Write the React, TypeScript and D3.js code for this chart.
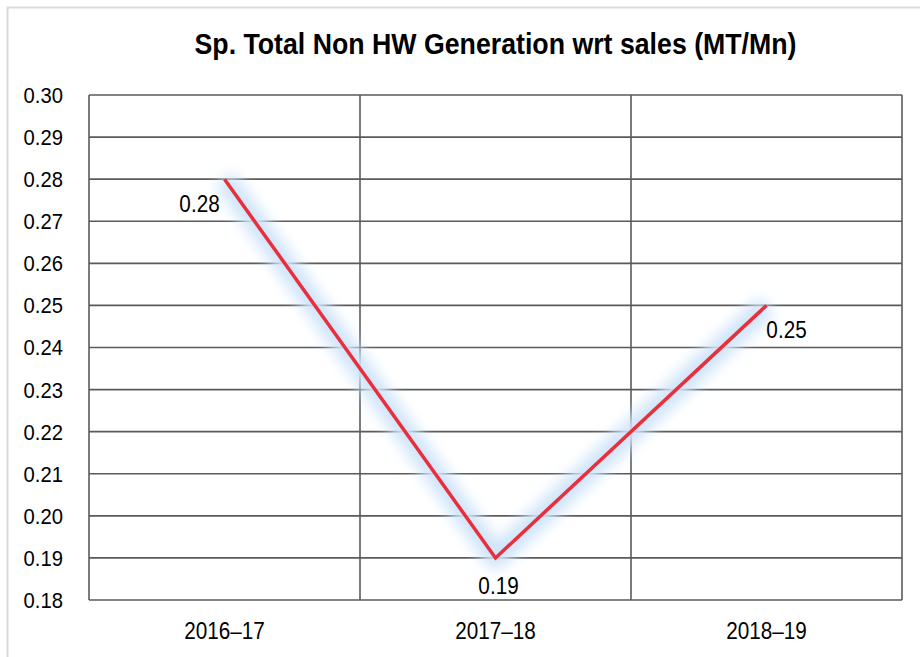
import React, { useEffect, useRef } from 'react';
import * as d3 from 'd3';

// values
const years = ['2016\u201317', '2017\u201318', '2018\u201319'];
const values = [0.28, 0.19, 0.25];
const yTicks = [0.18, 0.19, 0.2, 0.21, 0.22, 0.23, 0.24, 0.25, 0.26, 0.27, 0.28, 0.29, 0.3];
const title = 'Sp. Total Non HW Generation wrt sales (MT/Mn)';

const W = 920;
const H = 657;
const FONT = '"Liberation Sans", Arial, sans-serif';

export default function App() {
    const ref = useRef<SVGSVGElement>(null);

    useEffect(() => {
        const margin = { top: 95, right: 18, bottom: 57, left: 89 };
        const width = W - margin.left - margin.right;
        const height = H - margin.top - margin.bottom;

        const root = d3.select(ref.current);
        root.selectAll('*').remove();

        const defs = root.append('defs');
        const glow = defs.append('filter').attr('id', 'glow')
            .attr('x', '-20%').attr('y', '-20%').attr('width', '140%').attr('height', '140%');
        glow.append('feGaussianBlur').attr('stdDeviation', 7);

        // outer frame, runs off the right and bottom edges
        root.append('rect')
            .attr('x', 7.5).attr('y', 7.5)
            .attr('width', W + 20).attr('height', H + 20)
            .attr('fill', '#fff').attr('stroke', '#dadada').attr('stroke-width', 2);

        // condensed look: squeeze glyphs horizontally
        const label = (sel, size, sx) =>
            sel.style('font-family', FONT).style('font-size', size + 'px')
                .attr('transform', function () {
                    const t = d3.select(this);
                    return `translate(${t.attr('data-x')},${t.attr('data-y')}) scale(${sx},1)`;
                });

        root.append('text')
            .attr('x', margin.left + width / 2 - 301).attr('y', 53.5)
            .attr('textLength', 602).attr('lengthAdjust', 'spacingAndGlyphs')
            .style('font-family', FONT).style('font-weight', 'bold').style('font-size', '29px')
            .text(title);

        const svg = root.append('g').attr('transform', `translate(${margin.left},${margin.top})`);

        const x = d3.scaleBand().domain(years).range([0, width]);
        const y = d3.scaleLinear().domain([0.18, 0.3]).range([height, 0]);

        // horizontal grid + y labels
        svg.selectAll('line.h').data(yTicks).enter().append('line')
            .attr('x1', 0).attr('x2', width)
            .attr('y1', d => y(d)).attr('y2', d => y(d))
            .attr('stroke', '#5a5a5a').attr('stroke-width', 1.6);

        svg.selectAll('text.yl').data(yTicks).enter().append('text')
            .attr('data-x', -26).attr('data-y', d => y(d))
            .attr('dy', '0.36em').attr('text-anchor', 'end')
            .call(label, 22, 0.92)
            .text(d => d3.format('.2f')(d));

        // vertical band separators
        const edges = [0, ...years.map(d => (x(d) as number) + x.bandwidth())];
        svg.selectAll('line.v').data(edges).enter().append('line')
            .attr('x1', d => d).attr('x2', d => d)
            .attr('y1', 0).attr('y2', height)
            .attr('stroke', '#5a5a5a').attr('stroke-width', 1.6);

        svg.selectAll('text.xl').data(years).enter().append('text')
            .attr('data-x', d => (x(d) as number) + x.bandwidth() / 2).attr('data-y', height + 38.5)
            .attr('text-anchor', 'middle')
            .call(label, 23, 0.9)
            .text(d => d);

        const pts: [number, number][] = years.map((d, i) => [(x(d) as number) + x.bandwidth() / 2, y(values[i])]);
        const line = d3.line();

        svg.append('path').attr('d', line(pts))
            .attr('fill', 'none').attr('stroke', '#cfe4f9').attr('stroke-width', 22)
            .attr('stroke-linejoin', 'round').attr('filter', 'url(#glow)');
        svg.append('path').attr('d', line(pts))
            .attr('fill', 'none').attr('stroke', '#e8303c').attr('stroke-width', 3.5)
            .attr('stroke-linejoin', 'miter');

        // data labels
        const offs = [[-25, 33], [3, 36], [20, 33]];
        svg.selectAll('text.dl').data(values).enter().append('text')
            .attr('data-x', (d, i) => pts[i][0] + offs[i][0]).attr('data-y', (d, i) => pts[i][1] + offs[i][1])
            .attr('text-anchor', 'middle')
            .call(label, 23, 0.9)
            .text(d => d3.format('.2f')(d));
    }, []);

    return (
        <svg ref={ref} width={W} height={H} style={{ position: 'absolute', left: 0, top: 0, background: '#fff' }} />
    );
}
